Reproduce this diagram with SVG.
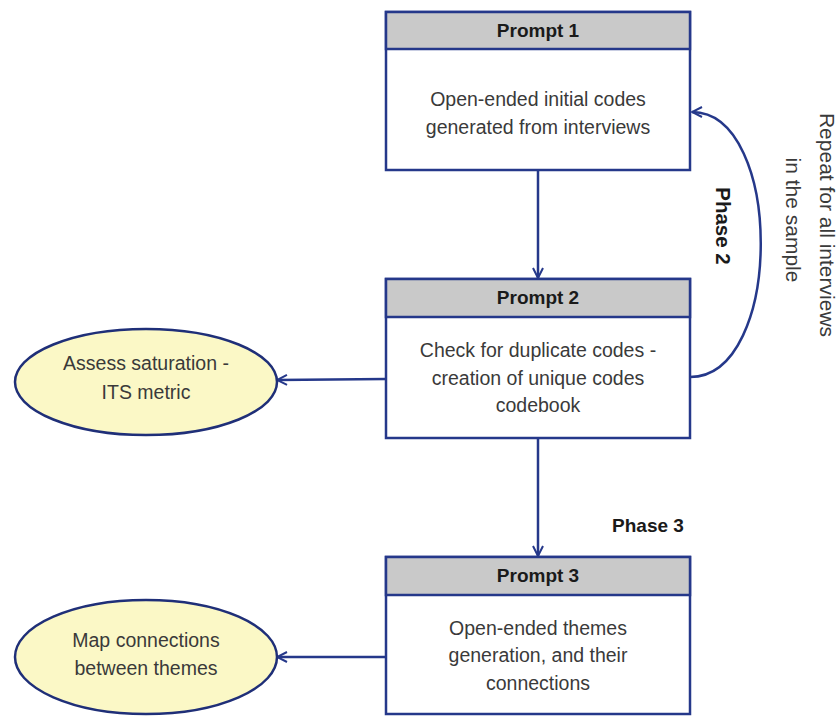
<svg xmlns="http://www.w3.org/2000/svg" width="840" height="717" viewBox="0 0 840 717">
<style>
.box{fill:#fff;stroke:#25388a;stroke-width:2.5}
.hdr{fill:#c9c9c9;stroke:#25388a;stroke-width:2.5}
.ell{fill:#fbf8c6;stroke:#1f2f78;stroke-width:2.5}
.t{font-family:"Liberation Sans",Arial,sans-serif;font-size:19.5px;fill:#3a3a3a;text-anchor:middle}
.h{font-family:"Liberation Sans",Arial,sans-serif;font-size:19px;font-weight:bold;fill:#1a1a1a;text-anchor:middle}
.r{font-family:"Liberation Sans",Arial,sans-serif;font-size:21px;fill:#3a3a3a;text-anchor:middle}
.rb{font-family:"Liberation Sans",Arial,sans-serif;font-size:20.5px;font-weight:bold;fill:#1a1a1a;text-anchor:middle}
.c{fill:none;stroke:#25388a;stroke-width:2.5}
</style>
<defs>
<marker id="a" viewBox="0 0 12 12" refX="11" refY="6" markerWidth="12" markerHeight="12" markerUnits="userSpaceOnUse" orient="auto">
<path d="M1,1 L11,6 L1,11" fill="none" stroke="#25388a" stroke-width="2"/>
</marker>
</defs>
<rect width="840" height="717" fill="#fff"/>
<g id="connectors">
<path class="c" d="M538,170 L538,278" marker-end="url(#a)"/>
<path class="c" d="M538,438 L538,556" marker-end="url(#a)"/>
<path class="c" d="M386,379 L277,380" marker-end="url(#a)"/>
<path class="c" d="M386,657 L277,657" marker-end="url(#a)"/>
<path class="c" d="M690,377 C784,377 784,112 692,112" marker-end="url(#a)"/>
</g>
<g id="prompt1">
<rect class="box" x="386" y="12" width="304" height="158"/>
<rect class="hdr" x="386" y="12" width="304" height="37"/>
<text class="h" x="538" y="37">Prompt 1</text>
<text class="t" x="538" y="106">Open-ended initial codes</text>
<text class="t" x="538" y="134">generated from interviews</text>
</g>
<g id="prompt2">
<rect class="box" x="386" y="279" width="304" height="159"/>
<rect class="hdr" x="386" y="279" width="304" height="38"/>
<text class="h" x="538" y="304">Prompt 2</text>
<text class="t" x="538" y="357">Check for duplicate codes -</text>
<text class="t" x="538" y="385">creation of unique codes</text>
<text class="t" x="538" y="412">codebook</text>
</g>
<g id="prompt3">
<rect class="box" x="386" y="557" width="304" height="157"/>
<rect class="hdr" x="386" y="557" width="304" height="38"/>
<text class="h" x="538" y="582">Prompt 3</text>
<text class="t" x="538" y="635">Open-ended themes</text>
<text class="t" x="538" y="662">generation, and their</text>
<text class="t" x="538" y="690">connections</text>
</g>
<g id="saturation">
<ellipse class="ell" cx="146" cy="382" rx="131" ry="53"/>
<text class="t" x="146" y="370">Assess saturation -</text>
<text class="t" x="146" y="399">ITS metric</text>
</g>
<g id="mapconn">
<ellipse class="ell" cx="146" cy="657" rx="131" ry="57"/>
<text class="t" x="146" y="647">Map connections</text>
<text class="t" x="146" y="675">between themes</text>
</g>
<g id="labels">
<text class="rb" transform="translate(716,226) rotate(90)">Phase 2</text>
<text class="r" transform="translate(820,225) rotate(90)">Repeat for all interviews</text>
<text class="r" transform="translate(786,220) rotate(90)">in the sample</text>
<text class="h" x="648" y="532">Phase 3</text>
</g>
</svg>
